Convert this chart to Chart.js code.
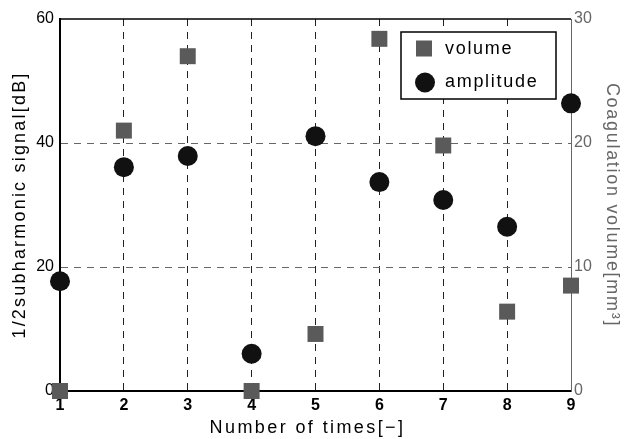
<!DOCTYPE html>
<html>
<head>
<meta charset="utf-8">
<script src="https://cdn.jsdelivr.net/npm/chart.js@4.4.0/dist/chart.umd.min.js"></script>
<style>
html,body{margin:0;padding:0;background:#fff;}
#wrap{width:625px;height:439px;position:relative;}
</style>
</head>
<body>
<div id="wrap"><canvas id="c" width="625" height="439"></canvas></div>
<script>
const times = [1, 2, 3, 4, 5, 6, 7, 8, 9];
const volume = [0, 21, 27, 0, 4.6, 28.4, 19.8, 6.4, 8.5];
const amplitude = [17.7, 36.1, 37.9, 6.0, 41.1, 33.7, 30.8, 26.5, 46.4];
const leftTicks = [0, 20, 40, 60];
const rightTicks = [0, 10, 20, 30];
const xTicks = [1, 2, 3, 4, 5, 6, 7, 8, 9];

const FONT = "'Liberation Sans', Arial, sans-serif";
const SQ_COLOR = '#5a5a5a';
const CIRC_COLOR = '#111111';
const titleSpacing = {x: '2.4px', y: '2.2px', y2: '1.7px'};
const titleShift = {x: -8, y: 0, y2: 0};

const spacing = {
  id: 'spacing',
  beforeDraw(chart) {
    Object.values(chart.scales).forEach(scale => {
      if (scale._lsPatched) return;
      const sp = titleSpacing[scale.id];
      if (!sp) return;
      const orig = scale.drawTitle;
      scale.drawTitle = function () {
        const ctx = this.ctx;
        ctx.save();
        ctx.letterSpacing = sp;
        ctx.translate(titleShift[scale.id] || 0, 0);
        orig.apply(this, arguments);
        ctx.restore();
      };
      scale._lsPatched = true;
    });
  }
};

const frame = {
  id: 'frame',
  afterDatasetsDraw(chart) {
    const {ctx, chartArea: a} = chart;
    ctx.save();
    ctx.strokeStyle = '#000';
    ctx.lineWidth = 1.5;
    ctx.beginPath();
    ctx.moveTo(a.left, a.top);
    ctx.lineTo(a.right, a.top);
    ctx.stroke();
    // legend
    const bx = 401, by = 32, bw = 155, bh = 67;
    ctx.fillStyle = '#fff';
    ctx.fillRect(bx, by, bw, bh);
    ctx.lineWidth = 1.5;
    ctx.strokeStyle = '#000';
    ctx.strokeRect(bx, by, bw, bh);
    const ds = chart.data.datasets;
    ctx.fillStyle = ds[0].backgroundColor;
    ctx.fillRect(416, 40.5, 16, 16);
    ctx.fillStyle = ds[1].backgroundColor;
    ctx.beginPath();
    ctx.arc(425, 82.5, 10, 0, Math.PI * 2);
    ctx.fill();
    ctx.fillStyle = '#000';
    ctx.font = "18px " + FONT;
    ctx.letterSpacing = '1.7px';
    ctx.textBaseline = 'middle';
    ctx.fillText(ds[0].label, 445, 49);
    ctx.fillText(ds[1].label, 445, 82);
    ctx.restore();
  }
};

new Chart(document.getElementById('c'), {
  type: 'scatter',
  data: {
    datasets: [
      {
        label: 'volume',
        data: times.map((t, i) => ({x: t, y: volume[i]})),
        yAxisID: 'y2',
        pointStyle: 'rect',
        pointRadius: 11.3,
        pointHoverRadius: 11.3,
        borderWidth: 0,
        backgroundColor: SQ_COLOR,
        borderColor: SQ_COLOR,
        clip: false,
        order: 2
      },
      {
        label: 'amplitude',
        data: times.map((t, i) => ({x: t, y: amplitude[i]})),
        yAxisID: 'y',
        pointStyle: 'circle',
        pointRadius: 10,
        pointHoverRadius: 10,
        borderWidth: 0,
        backgroundColor: CIRC_COLOR,
        borderColor: CIRC_COLOR,
        clip: false,
        order: 1
      }
    ]
  },
  options: {
    responsive: false,
    animation: false,
    events: [],
    layout: {padding: {top: 19, left: 0, right: 0, bottom: 0}},
    plugins: {legend: {display: false}, tooltip: {enabled: false}},
    scales: {
      x: {
        type: 'linear',
        min: 1, max: 9,
        afterBuildTicks: s => { s.ticks = xTicks.map(v => ({value: v})); },
        afterFit: s => { s.height = 48; },
        ticks: {color: '#000', font: {family: FONT, size: 16, weight: 'bold'}, padding: 5},
        grid: {
          drawTicks: false,
          color: c => (c.tick && (c.tick.value === 1 || c.tick.value === 9)) ? 'rgba(0,0,0,0)' : '#222',
          lineWidth: 1
        },
        border: {display: true, color: '#000', width: 2, dash: [7, 6]},
        title: {display: true, text: 'Number of times[−]', color: '#000', font: {family: FONT, size: 18}, padding: {top: 0, bottom: 0}}
      },
      y: {
        position: 'left',
        min: 0, max: 60,
        afterBuildTicks: s => { s.ticks = leftTicks.map(v => ({value: v})); },
        afterFit: s => { s.width = 60; },
        ticks: {color: '#000', font: {family: FONT, size: 16}, padding: 6},
        grid: {
          drawTicks: false,
          color: c => (c.tick && (c.tick.value === 0 || c.tick.value === 60)) ? 'rgba(0,0,0,0)' : '#666',
          lineWidth: 1
        },
        border: {display: true, color: '#000', width: 2, dash: [7, 6]},
        title: {display: true, text: '1/2subharmonic signal[dB]', color: '#000', font: {family: FONT, size: 18}, padding: {top: 9, bottom: 0}}
      },
      y2: {
        position: 'right',
        min: 0, max: 30,
        afterBuildTicks: s => { s.ticks = rightTicks.map(v => ({value: v})); },
        afterFit: s => { s.width = 54; },
        ticks: {color: '#666', font: {family: FONT, size: 16}, padding: 3},
        grid: {display: false, drawTicks: false},
        border: {display: true, color: '#666', width: 1},
        title: {display: true, text: 'Coagulation volume[mm³]', color: '#666', font: {family: FONT, size: 18}, padding: {top: 2, bottom: 0}}
      }
    }
  },
  plugins: [spacing, frame]
});
</script>
</body>
</html>
